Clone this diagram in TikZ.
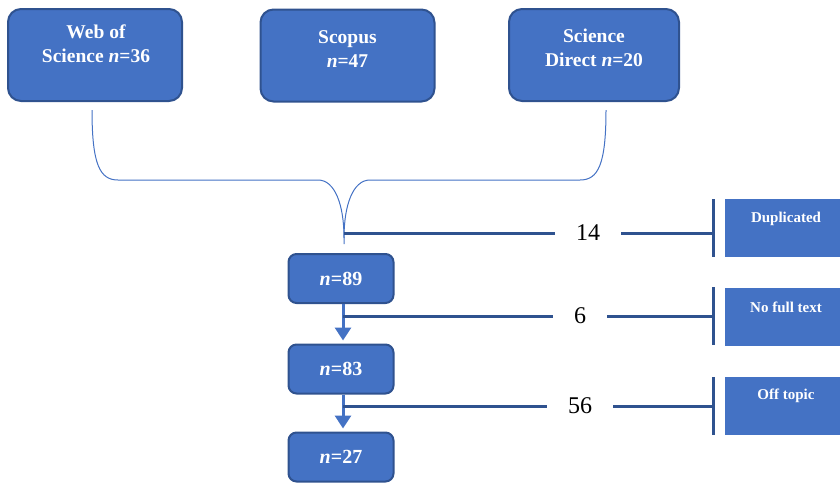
\documentclass[tikz,border=0pt]{standalone}
\usepackage{fontspec}
\setmainfont{Liberation Serif}
\usetikzlibrary{arrows.meta}
\definecolor{boxblue}{HTML}{4472C4}
\definecolor{edgeblue}{HTML}{2F528F}
\tikzset{
  srcbox/.style={draw=edgeblue, fill=boxblue, line width=2pt, rounded corners=13pt, minimum width=174pt, minimum height=92pt},
  srctext/.style={text=white, align=center, font=\fontsize{19.5}{24}\selectfont\bfseries},
  stepbox/.style={draw=edgeblue, fill=boxblue, line width=2pt, rounded corners=8pt, minimum width=105pt, minimum height=49pt, text=white, font=\fontsize{20}{24}\selectfont\bfseries},
  reasonbox/.style={fill=boxblue, minimum width=115pt, minimum height=58pt},
  reasontext/.style={text=white, font=\fontsize{15}{18}\selectfont\bfseries},
  numtext/.style={text=black, inner xsep=21pt, font=\fontsize{24}{28}\selectfont},
  bracket/.style={draw=boxblue, line width=1pt},
  hline/.style={draw=edgeblue, line width=3pt},
  bar/.style={draw=edgeblue, line width=3pt},
  flow/.style={draw=boxblue, line width=3pt, -{Triangle[width=16pt,length=13pt]}, shorten >=3pt}
}
\begin{document}
\begin{tikzpicture}[x=1pt,y=-1pt]
  \useasboundingbox (0,0) rectangle (840,482);
  % databases
  \node[srcbox] (wos) at (95,55) {};
  \node[srctext] (wostxt) at (96,44) {Web of\\Science \textit{n}=36};
  \node[srcbox] (scopus) at (347.5,55.5) {};
  \node[srctext] (scopustxt) at (347.5,49.5) {Scopus\\\textit{n}=47};
  \node[srcbox, minimum width=170pt] (sd) at (594,55) {};
  \node[srctext] (sdtxt) at (594,47.5) {Science\\Direct \textit{n}=20};

  % brace joining the searches
  \coordinate (bl) at (92,110);
  \coordinate (br) at (606,110);
  \coordinate (tip) at (344,238);
  \coordinate (stem) at (344,244);
  \coordinate (j0) at (344,233);
  \draw[bracket] (bl) .. controls (92,165) and (100,180) .. (118,180) -- (318,180) .. controls (335,180) and (344,205) .. (tip);
  \draw[bracket] (br) .. controls (606,165) and (598,180) .. (580,180) -- (370,180) .. controls (353,180) and (344,205) .. (tip) -- (stem);

  % screening steps
  \node[stepbox] (n89) at (341,278.5) {\textit{n}=89};
  \node[stepbox] (n83) at (341,369) {\textit{n}=83};
  \node[stepbox] (n27) at (341,457) {\textit{n}=27};
  \draw[flow] ([xshift=2pt]n89.south) -- ([xshift=2pt]n83.north);
  \draw[flow] ([xshift=2pt]n83.south) -- ([xshift=2pt]n27.north);
  \coordinate (j1) at (343,316);
  \coordinate (j2) at (343,406);

  % excluded records
  \node[reasonbox] (dup) at (782.5,228) {};
  \node[reasontext] (duptxt) at (786,219) {Duplicated};
  \node[reasonbox] (nft) at (782.5,316.5) {};
  \node[reasontext] (nfttxt) at (786,307) {No full text};
  \node[reasonbox] (off) at (782.5,405.5) {};
  \node[reasontext] (offtxt) at (786,396) {Off topic};

  \coordinate (b0) at (713,233);
  \coordinate (b1) at (713,316);
  \coordinate (b2) at (713,406);
  \draw[bar] (713,199) -- (713,257); % bar 1
  \draw[bar] (713,287) -- (713,345); % bar 2
  \draw[bar] (713,377) -- (713,435); % bar 3

  \node[numtext] (c14) at (588,233) {14};
  \node[numtext] (c6) at (580,316) {6};
  \node[numtext] (c56) at (580,406) {56};
  \draw[hline] (j0) -- (c14.west);
  \draw[hline] (c14.east) -- (b0);
  \draw[hline] (j1) -- (c6.west);
  \draw[hline] (c6.east) -- (b1);
  \draw[hline] (j2) -- (c56.west);
  \draw[hline] (c56.east) -- (b2);
\end{tikzpicture}
\end{document}
